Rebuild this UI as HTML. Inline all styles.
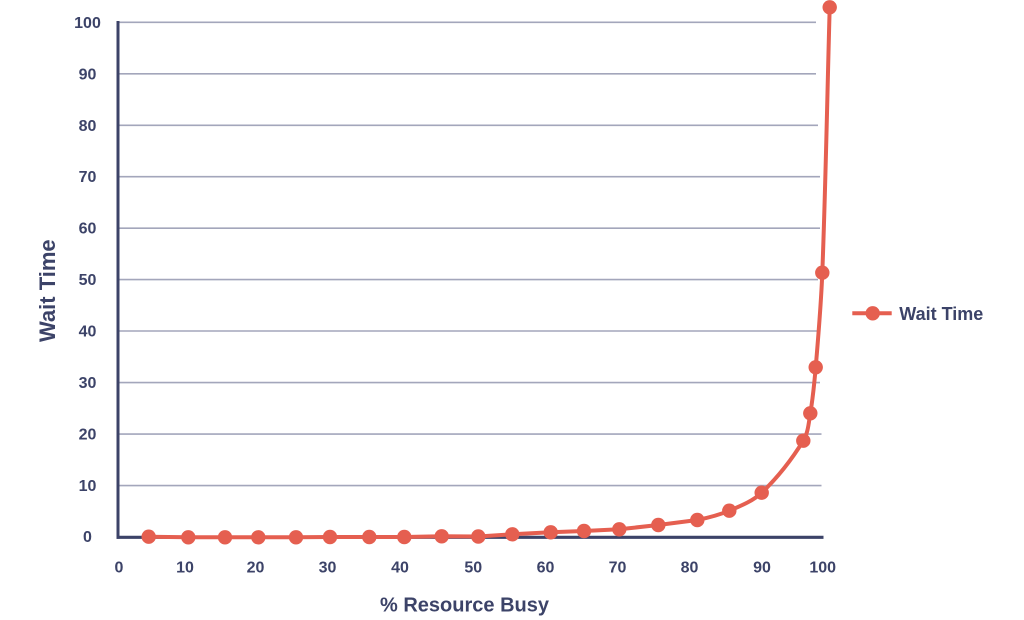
<!DOCTYPE html>
<html>
<head>
<meta charset="utf-8">
<style>
  html, body { margin: 0; padding: 0; background: #ffffff; }
  svg { display: block; }
  text { font-family: "Liberation Sans", Arial, sans-serif; font-weight: bold; fill: #3c4368; }
</style>
</head>
<body>
<svg width="1024" height="620" viewBox="0 0 1024 620" xmlns="http://www.w3.org/2000/svg">
  <rect width="1024" height="620" fill="#ffffff"/>
  <!-- gridlines -->
  <g stroke="#a3a6bb" stroke-width="1.6">
    <line x1="119" y1="22.3" x2="816" y2="22.3"/>
    <line x1="119" y1="73.8" x2="816" y2="73.8"/>
    <line x1="119" y1="125.3" x2="818" y2="125.3"/>
    <line x1="119" y1="176.7" x2="820" y2="176.7"/>
    <line x1="119" y1="228.2" x2="820" y2="228.2"/>
    <line x1="119" y1="279.6" x2="818" y2="279.6"/>
    <line x1="119" y1="331" x2="818" y2="331"/>
    <line x1="119" y1="382.6" x2="820" y2="382.6"/>
    <line x1="119" y1="434.1" x2="821.5" y2="434.1"/>
    <line x1="119" y1="485.6" x2="821.5" y2="485.6"/>
  </g>
  <!-- axes -->
  <line x1="118" y1="21" x2="118" y2="538.8" stroke="#3c4368" stroke-width="3"/>
  <line x1="116.5" y1="537.3" x2="823.5" y2="537.3" stroke="#3c4368" stroke-width="3.2"/>

  <!-- y tick labels -->
  <g font-size="16" text-anchor="middle">
    <text x="87.5" y="27.8">100</text>
    <text x="87.5" y="79.3">90</text>
    <text x="87.5" y="130.8">80</text>
    <text x="87.5" y="182.2">70</text>
    <text x="87.5" y="233.7">60</text>
    <text x="87.5" y="285.1">50</text>
    <text x="87.5" y="336.5">40</text>
    <text x="87.5" y="388.1">30</text>
    <text x="87.5" y="439.6">20</text>
    <text x="87.5" y="491.1">10</text>
    <text x="87.5" y="542">0</text>
  </g>
  <!-- x tick labels -->
  <g font-size="16" text-anchor="middle">
    <text x="119" y="572.5">0</text>
    <text x="185" y="572.5">10</text>
    <text x="255.5" y="572.5">20</text>
    <text x="327.5" y="572.5">30</text>
    <text x="400" y="572.5">40</text>
    <text x="473.3" y="572.5">50</text>
    <text x="545.5" y="572.5">60</text>
    <text x="617.5" y="572.5">70</text>
    <text x="689.5" y="572.5">80</text>
    <text x="762" y="572.5">90</text>
    <text x="822.7" y="572.5">100</text>
  </g>

  <!-- axis titles -->
  <text x="464.5" y="611.5" font-size="20" text-anchor="middle">% Resource Busy</text>
  <text transform="translate(55,290.7) rotate(-90)" font-size="22" text-anchor="middle">Wait Time</text>

  <!-- series line -->
  <path fill="none" stroke="#e55f50" stroke-width="4" stroke-linejoin="round" stroke-linecap="round"
    d="M148.7,536.7 L188.3,537.3 L225,537.3 L258.3,537.3 L296,537.3 L330,537 L369.3,537 L404.3,537 L441.7,536.3 L478.3,536.5 L512.3,534.3 L550.7,532.3 L584,531 L619.3,529.3 L658.3,525 L697.3,520
       C708.2,517.8 719.1,515 729.3,510.7
       C740.7,505.9 752.7,501.2 761.7,492.7
       C777.8,477.4 791.7,459.6 803.3,440.7
       C808.2,432.7 808.7,422.6 810.3,413.3
       C812.9,398.1 814.4,382.6 815.7,367.3
       C818.4,335.8 821.1,304.3 822.3,272.7
       C825.7,184.3 827.2,95.8 829.7,7.3"/>

  <!-- markers -->
  <g fill="#e55f50">
    <circle cx="148.7" cy="536.7" r="7.2"/>
    <circle cx="188.3" cy="537.3" r="7.2"/>
    <circle cx="225" cy="537.3" r="7.2"/>
    <circle cx="258.3" cy="537.3" r="7.2"/>
    <circle cx="296" cy="537.3" r="7.2"/>
    <circle cx="330" cy="537" r="7.2"/>
    <circle cx="369.3" cy="537" r="7.2"/>
    <circle cx="404.3" cy="537" r="7.2"/>
    <circle cx="441.7" cy="536.3" r="7.2"/>
    <circle cx="478.3" cy="536.5" r="7.2"/>
    <circle cx="512.3" cy="534.3" r="7.2"/>
    <circle cx="550.7" cy="532.3" r="7.2"/>
    <circle cx="584" cy="531" r="7.2"/>
    <circle cx="619.3" cy="529.3" r="7.2"/>
    <circle cx="658.3" cy="525" r="7.2"/>
    <circle cx="697.3" cy="520" r="7.2"/>
    <circle cx="729.3" cy="510.7" r="7.2"/>
    <circle cx="761.7" cy="492.7" r="7.2"/>
    <circle cx="803.3" cy="440.7" r="7.2"/>
    <circle cx="810.3" cy="413.3" r="7.2"/>
    <circle cx="815.7" cy="367.3" r="7.2"/>
    <circle cx="822.3" cy="272.7" r="7.2"/>
    <circle cx="829.7" cy="7.3" r="7.2"/>
  </g>

  <!-- legend -->
  <line x1="852.3" y1="313.3" x2="891.7" y2="313.3" stroke="#e55f50" stroke-width="4"/>
  <circle cx="872.7" cy="313.3" r="7.2" fill="#e55f50"/>
  <text x="899.3" y="320" font-size="18">Wait Time</text>
</svg>
</body>
</html>
